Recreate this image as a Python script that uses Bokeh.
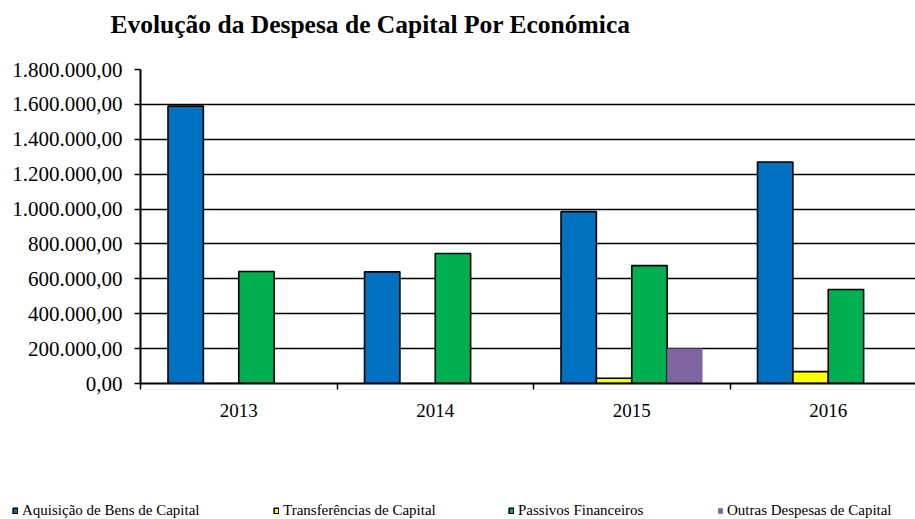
from bokeh.plotting import figure
from bokeh.layouts import column, row
from bokeh.models import FixedTicker, Legend, LegendItem, Title
from bokeh.embed import file_html
from bokeh.resources import INLINE

# ---- data ----
years = ["2013", "2014", "2015", "2016"]
series_names = ["Aquisição de Bens de Capital", "Transferências de Capital",
                "Passivos Financeiros", "Outras Despesas de Capital"]
aquisicao = [1590000, 640000, 985000, 1270000]
transferencias = [0, 0, 30000, 68000]
passivos = [642000, 745000, 676000, 539000]
outras = [0, 0, 200000, 0]
y_ticks = [0, 200000, 400000, 600000, 800000, 1000000, 1200000, 1400000, 1600000, 1800000]
y_tick_labels = ["0,00", "200.000,00", "400.000,00", "600.000,00", "800.000,00",
                 "1.000.000,00", "1.200.000,00", "1.400.000,00", "1.600.000,00", "1.800.000,00"]

# ---- styles ----
colors = ["#0070C0", "#FFFF00", "#00B050", "#8064A2"]
outlines = ["black", "black", "black", None]
offsets = [-0.27, -0.09, 0.09, 0.27]
bar_w = 0.18
FONT = "Liberation Serif"

p = figure(width=915, height=479, output_backend="svg", toolbar_location=None,
           x_range=(0, 3.944), y_range=(0, 1800000),
           min_border_left=140, min_border_right=0, min_border_top=69, min_border_bottom=96)
p.outline_line_color = None
p.background_fill_color = "white"
p.border_fill_color = "white"

# real title (outer), then a spacer title next to the frame
p.title.text = "Evolução  da Despesa de Capital Por Económica"
p.title.text_font = FONT
p.title.text_font_size = "25.5px"
p.title.text_font_style = "bold"
p.title.text_color = "black"
p.title.align = "left"
p.title.offset = -30
p.title.standoff = 0
p.title.vertical_align = "bottom"
p.add_layout(Title(text=" ", text_font_size="12px", standoff=15), "above")

all_series = [aquisicao, transferencias, passivos, outras]
renderers = []
for i, vals in enumerate(all_series):
    xs = [j + 0.5 + offsets[i] for j in range(len(years))]
    r = p.vbar(x=xs, top=vals, bottom=0, width=bar_w, fill_color=colors[i],
               line_color=outlines[i], line_width=1.6)
    renderers.append(r)

# grid
p.xgrid.visible = False
p.ygrid.ticker = FixedTicker(ticks=y_ticks)
p.ygrid.grid_line_color = "black"
p.ygrid.grid_line_width = 1.5

# y axis
p.yaxis.ticker = FixedTicker(ticks=y_ticks)
p.yaxis.major_label_overrides = dict(zip(y_ticks, y_tick_labels))
p.yaxis.minor_tick_line_color = None
p.yaxis.major_tick_in = 0
p.yaxis.major_tick_out = 6
p.yaxis.major_tick_line_width = 1.5
p.yaxis.axis_line_width = 2
p.yaxis.major_label_text_font = FONT
p.yaxis.major_label_text_font_size = "21px"
p.yaxis.major_label_text_color = "black"
p.yaxis.major_label_standoff = 12

# x axis
centers = [j + 0.5 for j in range(len(years))]
p.xaxis.ticker = FixedTicker(ticks=centers, minor_ticks=list(range(len(years))))
p.xaxis.major_label_overrides = dict(zip(centers, years))
p.xaxis.major_tick_line_color = None
p.xaxis.major_tick_in = 0
p.xaxis.major_tick_out = 0
p.xaxis.minor_tick_in = 0
p.xaxis.minor_tick_out = 6
p.xaxis.minor_tick_line_color = "black"
p.xaxis.minor_tick_line_width = 1.5
p.xaxis.axis_line_width = 2
p.xaxis.major_label_text_font = FONT
p.xaxis.major_label_text_font_size = "19px"
p.xaxis.major_label_text_color = "black"
p.xaxis.major_label_standoff = 14

# ---- legend strip (separate figure; its bars lie below its visible y range) ----
lf = figure(width=915, height=40, output_backend="svg", toolbar_location=None,
            x_range=(-0.5, 24), y_range=(1e8, 2e8),
            min_border_left=0, min_border_right=0, min_border_top=0, min_border_bottom=0)
lf.axis.visible = False
lf.grid.visible = False
lf.outline_line_color = None
lf.background_fill_color = "white"
lf.border_fill_color = "white"

legend_x = [12, 273, 508, 717]
for i, vals in enumerate(all_series):
    xs = [j + 0.5 + offsets[i] for j in range(len(years))]
    lr = lf.vbar(x=xs, top=vals, bottom=0, width=bar_w, fill_color=colors[i],
                 line_color=outlines[i], line_width=1.5)
    leg = Legend(items=[LegendItem(label=series_names[i], renderers=[lr])],
                 location=(legend_x[i], 0), orientation="horizontal",
                 glyph_width=6, glyph_height=7, label_standoff=4, label_height=14,
                 padding=0, margin=0,
                 border_line_color=None, background_fill_color="white",
                 background_fill_alpha=1.0,
                 label_text_font=FONT, label_text_font_size="15px",
                 label_text_color="black")
    lf.add_layout(leg)

open("out.html", "w").write(file_html(column(p, row(lf), spacing=0), INLINE))
